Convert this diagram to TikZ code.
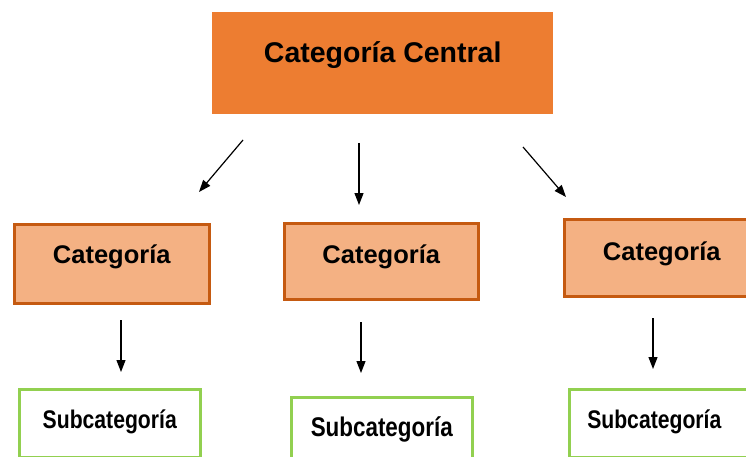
\documentclass[tikz,border=0pt]{standalone}
\usepackage{fontspec}
\setmainfont{Liberation Sans}
\newfontfamily\narrowsans{Liberation Sans}[FakeStretch=0.83]
\usetikzlibrary{arrows.meta}
\definecolor{centralorange}{HTML}{ED7D31}
\definecolor{catfill}{HTML}{F4B183}
\definecolor{catline}{HTML}{C55A11}
\definecolor{subline}{HTML}{92D050}
\tikzset{central/.style={fill=centralorange, anchor=north west, inner sep=0pt, font=\bfseries\fontsize{28.5}{30}\selectfont}}
\tikzset{category/.style={draw=catline, fill=catfill, line width=2.5pt, anchor=north west, inner sep=0pt, font=\bfseries\fontsize{25.5}{27}\selectfont}}
\tikzset{subcategory/.style={draw=subline, fill=white, line width=2.5pt, anchor=north west, inner sep=0pt, font=\narrowsans\bfseries\fontsize{25.5}{27}\selectfont}}
\tikzset{link/.style={-{Triangle[length=12pt,width=9pt]}, line width=1.2pt}}

\begin{document}
\begin{tikzpicture}[x=1pt,y=-1pt]
\useasboundingbox (0,0) rectangle (746,457);
\clip (0,0) rectangle (746,457);

\node[central, minimum width=341pt, text height=50pt, text depth=52pt] (centralcat) at (212,12) {Categoría Central};

\node[category, minimum width=195pt, text height=39pt, text depth=40pt] (catleft) at (13,223) {Categoría};
\node[category, minimum width=194pt, text height=40pt, text depth=36pt] (catmid) at (283,222) {Categoría};
\node[category, minimum width=195pt, text height=41pt, text depth=36pt] (catright) at (563,218) {Categoría};

\node[subcategory, minimum width=181pt, text height=39pt, text depth=29pt] (subleft) at (18,388) {Subcategoría};
\node[subcategory, minimum width=181pt, text height=39pt, text depth=40pt, font=\narrowsans\bfseries\fontsize{27}{28}\selectfont] (submid) at (290,396) {Subcategoría};
\node[subcategory, text width=172pt, align=left, inner xsep=18pt, text height=39pt, text depth=29pt] (subright) at (568,388) {Subcategoría};

% arrow ends between the rows
\coordinate (p1) at (243,140);
\coordinate (p2) at (199,192);
\coordinate (p3) at (359,143);
\coordinate (p4) at (359,205);
\coordinate (p5) at (523,147);
\coordinate (p6) at (566,197);
\coordinate (p7) at (121,320);
\coordinate (p8) at (121,372);
\coordinate (p9) at (361,322);
\coordinate (p10) at (361,373);
\coordinate (p11) at (653,318);
\coordinate (p12) at (653,369);

\draw[link] (p1) -- (p2);
\draw[link] (p3) -- (p4);
\draw[link] (p5) -- (p6);
\draw[link] (p7) -- (p8);
\draw[link] (p9) -- (p10);
\draw[link] (p11) -- (p12);
\end{tikzpicture}
\end{document}
